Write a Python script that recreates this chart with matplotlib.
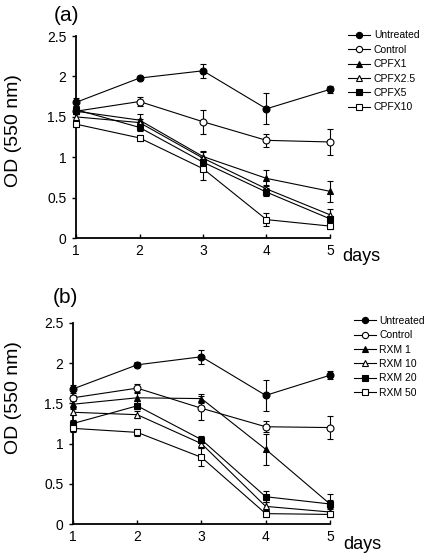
import matplotlib
matplotlib.use("Agg")
import matplotlib.pyplot as plt

plt.rcParams['font.family'] = ['Liberation Sans', 'DejaVu Sans']

days = [1, 2, 3, 4, 5]
xticks = [1, 2, 3, 4, 5]
yticks = [0, 0.5, 1, 1.5, 2, 2.5]
ytick_labels = ["0", "0.5", "1", "1.5", "2", "2.5"]

# Panel (a)
labels_a = ["Untreated", "Control", "CPFX1", "CPFX2.5", "CPFX5", "CPFX10"]
untreated_a = [1.68, 1.98, 2.07, 1.60, 1.84]
control_a = [1.57, 1.69, 1.44, 1.21, 1.19]
cpfx1 = [1.57, 1.46, 1.01, 0.74, 0.58]
cpfx25 = [1.50, 1.43, 0.99, 0.61, 0.29]
cpfx5 = [1.59, 1.37, 0.94, 0.57, 0.24]
cpfx10 = [1.41, 1.24, 0.86, 0.23, 0.15]
err_untreated_a = [0.05, 0.03, 0.09, 0.19, 0.04]
err_control_a = [0.04, 0.05, 0.15, 0.08, 0.16]
err_cpfx1 = [0.04, 0.07, 0.07, 0.10, 0.13]
err_cpfx25 = [0.04, 0.05, 0.08, 0.05, 0.07]
err_cpfx5 = [0.04, 0.04, 0.06, 0.05, 0.04]
err_cpfx10 = [0.04, 0.04, 0.14, 0.08, 0.03]

# Panel (b)
labels_b = ["Untreated", "Control", "RXM 1", "RXM 10", "RXM 20", "RXM 50"]
untreated_b = [1.68, 1.98, 2.08, 1.60, 1.85]
control_b = [1.57, 1.69, 1.44, 1.21, 1.20]
rxm1 = [1.49, 1.57, 1.56, 0.93, 0.25]
rxm10 = [1.39, 1.36, 1.00, 0.22, 0.15]
rxm20 = [1.25, 1.47, 1.05, 0.34, 0.25]
rxm50 = [1.19, 1.14, 0.83, 0.13, 0.12]
err_untreated_b = [0.05, 0.03, 0.09, 0.19, 0.05]
err_control_b = [0.04, 0.05, 0.15, 0.07, 0.14]
err_rxm1 = [0.05, 0.06, 0.06, 0.19, 0.12]
err_rxm10 = [0.04, 0.04, 0.05, 0.05, 0.04]
err_rxm20 = [0.04, 0.04, 0.04, 0.07, 0.05]
err_rxm50 = [0.04, 0.04, 0.11, 0.04, 0.03]

styles = [
    dict(marker='o', mfc='black'),
    dict(marker='o', mfc='white'),
    dict(marker='^', mfc='black'),
    dict(marker='^', mfc='white'),
    dict(marker='s', mfc='black'),
    dict(marker='s', mfc='white'),
]

fig = plt.figure(figsize=(4.37, 5.54), dpi=100)


def panel(rect, series, errs, labels, title, title_xy, ylab_xy, leg_xy, days_y):
    ax = fig.add_axes(rect)
    handles = []
    for vals, err, st, lab in zip(series, errs, styles, labels):
        h = ax.errorbar(days, vals, yerr=err, color='black', lw=0.8,
                        marker=st['marker'], mfc=st['mfc'], mec='black',
                        ms=5, mew=0.8, capsize=2.5, elinewidth=0.8,
                        capthick=0.8, label=lab, zorder=3)
        for art in h.get_children():
            art.set_clip_on(False)
        handles.append(h)
    ax.set_xlim(1, 5)
    ax.set_ylim(0, 2.5)
    ax.set_xticks(xticks)
    ax.set_yticks(yticks)
    ax.set_yticklabels(ytick_labels)
    for s in ['top', 'right']:
        ax.spines[s].set_visible(False)
    for s in ['left', 'bottom']:
        ax.spines[s].set_linewidth(1.3)
    ax.tick_params(axis='x', direction='in', length=3, width=1, pad=4,
                   labelsize=10)
    ax.tick_params(axis='y', direction='out', length=3, width=1, pad=4,
                   labelsize=10)
    ax.text(1.05, days_y, 'days', transform=ax.transAxes, ha='left',
            va='center', fontsize=13)
    fig.text(title_xy[0], title_xy[1], title, ha='center', va='center',
             fontsize=15)
    fig.text(ylab_xy[0], ylab_xy[1], 'OD (550 nm)', rotation=90,
             ha='center', va='center', fontsize=14)
    lh = [h.lines[0] for h in handles]
    fig.legend(lh, labels, loc='upper left', bbox_to_anchor=leg_xy,
               bbox_transform=fig.transFigure, frameon=False, fontsize=7.5,
               handlelength=2.1, handletextpad=0.35, labelspacing=0.42,
               borderpad=0, borderaxespad=0, markerscale=0.9)
    return ax


panel([0.174, 0.570, 0.581, 0.365],
      [untreated_a, control_a, cpfx1, cpfx25, cpfx5, cpfx10],
      [err_untreated_a, err_control_a, err_cpfx1, err_cpfx25, err_cpfx5, err_cpfx10],
      labels_a, '(a)', (0.153, 0.972), (0.03, 0.764), (0.797, 0.945), -0.09)

panel([0.167, 0.054, 0.588, 0.363],
      [untreated_b, control_b, rxm1, rxm10, rxm20, rxm50],
      [err_untreated_b, err_control_b, err_rxm1, err_rxm10, err_rxm20, err_rxm50],
      labels_b, '(b)', (0.149, 0.463), (0.03, 0.283), (0.81, 0.43), -0.10)

fig.savefig('out.png', dpi=100)
